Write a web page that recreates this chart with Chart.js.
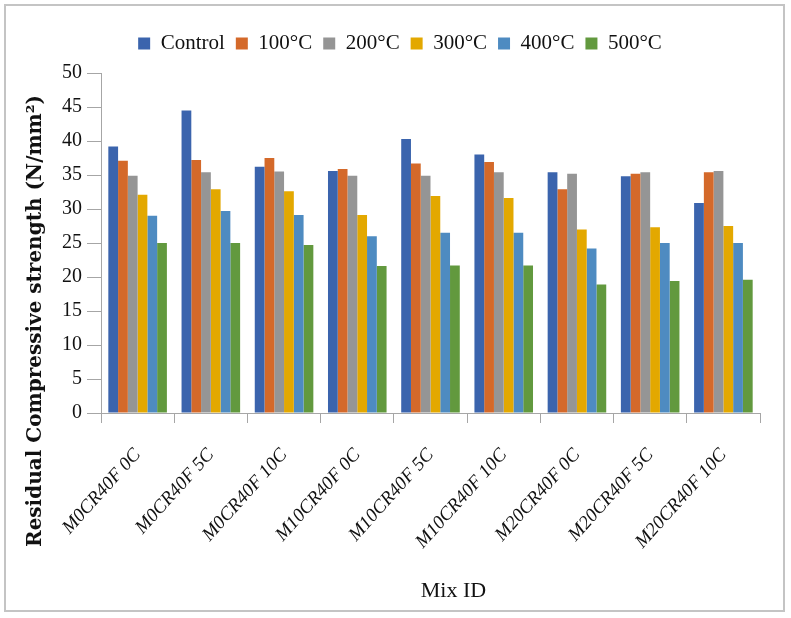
<!DOCTYPE html>
<html>
<head>
<meta charset="utf-8">
<script src="https://cdn.jsdelivr.net/npm/chart.js@4.4.1/dist/chart.umd.min.js"></script>
<style>
  html, body { margin: 0; padding: 0; background: #ffffff; }
  #wrap { width: 791px; height: 618px; position: relative; }
</style>
</head>
<body>
<div id="wrap"><canvas id="c" width="791" height="618"></canvas></div>
<script>
const categories = ["M0CR40F 0C", "M0CR40F 5C", "M0CR40F 10C", "M10CR40F 0C", "M10CR40F 5C", "M10CR40F 10C", "M20CR40F 0C", "M20CR40F 5C", "M20CR40F 10C"];
const seriesNames = ["Control", "100°C", "200°C", "300°C", "400°C", "500°C"];
const control = [39.2, 44.5, 36.2, 35.6, 40.3, 38.0, 35.4, 34.8, 30.9];
const t100 = [37.1, 37.2, 37.5, 35.9, 36.7, 36.9, 32.9, 35.2, 35.4];
const t200 = [34.9, 35.4, 35.5, 34.9, 34.9, 35.4, 35.2, 35.4, 35.6];
const t300 = [32.1, 32.9, 32.6, 29.1, 31.9, 31.6, 27.0, 27.3, 27.5];
const t400 = [29.0, 29.7, 29.1, 26.0, 26.5, 26.5, 24.2, 25.0, 25.0];
const t500 = [25.0, 25.0, 24.7, 21.6, 21.7, 21.7, 18.9, 19.4, 19.6];
const colors = ["#3B64AD", "#D4692A", "#959595", "#E3A800", "#4E8BC1", "#62993E"];
const yTitle = "Residual Compressive strength (N/mm²)";
const xTitle = "Mix ID";

const values = [control, t100, t200, t300, t400, t500];

const decorPlugin = {
  id: 'decor',
  beforeLayout(chart) {
    const lg = chart.legend;
    if (lg && !lg._extraGap) {
      const origFit = lg.fit.bind(lg);
      lg.fit = function () { origFit(); this.height += 9; };
      lg._extraGap = true;
    }
  },
  afterLayout(chart) {
    const lg = chart.legend;
    if (lg) { lg.left += 20; lg.right += 20; }
  },
  beforeDraw(chart) {
    const ctx = chart.ctx;
    ctx.save();
    ctx.fillStyle = '#ffffff';
    ctx.fillRect(0, 0, chart.width, chart.height);
    ctx.restore();
  },
  afterDraw(chart) {
    const ctx = chart.ctx;
    const area = chart.chartArea;
    ctx.save();
    ctx.strokeStyle = '#C4C4C4';
    ctx.lineWidth = 2;
    ctx.strokeRect(5, 5, 779, 606);
    ctx.fillStyle = '#111';
    ctx.font = 'bold 20px "DejaVu Serif"';
    ctx.textAlign = 'center';
    ctx.textBaseline = 'middle';
    ctx.translate(36, 321);
    ctx.rotate(-Math.PI / 2);
    ctx.fillText(yTitle, 0, 0);
    ctx.restore();
    ctx.save();
    ctx.fillStyle = '#111';
    ctx.font = '22px "Liberation Serif"';
    ctx.textAlign = 'center';
    ctx.textBaseline = 'middle';
    ctx.fillText(xTitle, (area.left + area.right) / 2 + 23, 591);
    ctx.restore();
  }
};

new Chart(document.getElementById('c'), {
  type: 'bar',
  data: {
    labels: categories,
    datasets: seriesNames.map((n, i) => ({
      label: n,
      data: values[i],
      backgroundColor: colors[i],
      borderWidth: 0,
      categoryPercentage: 0.8,
      barPercentage: 1.0
    }))
  },
  options: {
    responsive: false,
    animation: false,
    devicePixelRatio: 1,
    layout: { padding: { top: 22, right: 31, bottom: 0, left: 0 } },
    plugins: {
      legend: {
        position: 'top',
        labels: {
          boxWidth: 12,
          boxHeight: 12,
          padding: 11,
          color: '#111',
          font: { family: '"Liberation Serif"', size: 21 }
        }
      },
      tooltip: { enabled: false },
      title: { display: false }
    },
    scales: {
      x: {
        afterFit(scale) { scale.height = 205; },
        grid: { offset: true, drawOnChartArea: false, drawTicks: true, tickLength: 10, color: '#A6A6A6' },
        border: { color: '#A6A6A6', width: 1 },
        ticks: {
          minRotation: 48, maxRotation: 48, padding: 21, color: '#111',
          font: { family: '"Liberation Serif"', size: 19, style: 'italic' }
        }
      },
      y: {
        min: 0, max: 50,
        afterFit(scale) { scale.width = 101; },
        grid: { drawOnChartArea: false, drawTicks: true, tickLength: 14, color: '#A6A6A6' },
        border: { color: '#A6A6A6', width: 1 },
        ticks: {
          stepSize: 5, padding: 5, color: '#111',
          font: { family: '"Liberation Serif"', size: 20 }
        }
      }
    }
  },
  plugins: [decorPlugin]
});
</script>
</body>
</html>
